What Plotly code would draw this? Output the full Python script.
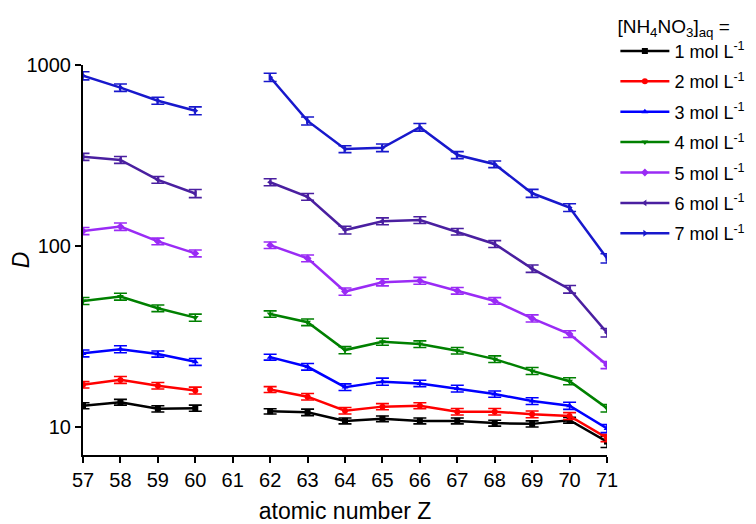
import plotly.graph_objects as go

Z = [57, 58, 59, 60, 61, 62, 63, 64, 65, 66, 67, 68, 69, 70, 71]

d1 = [13.1, 13.7, 12.6, 12.7, None, 12.2, 12.05, 10.8, 11.1, 10.8, 10.8, 10.5, 10.4, 10.9, 8.3]
d2 = [17.1, 18.2, 16.9, 15.9, None, 16.1, 14.7, 12.3, 12.95, 13.1, 12.15, 12.15, 11.75, 11.5, 8.7]
d3 = [25.5, 26.9, 25.3, 22.9, None, 24.3, 21.5, 16.6, 17.8, 17.4, 16.3, 15.2, 13.9, 13.1, 9.8]
d4 = [49.7, 52.5, 45.3, 40.2, None, 42.1, 37.9, 26.6, 29.6, 28.7, 26.4, 23.7, 20.4, 17.9, 12.7]
d5 = [121, 128, 106, 91, None, 101, 85.5, 56, 63, 64.3, 56.6, 49.7, 39.8, 32.6, 22]
d6 = [311, 299, 232, 195, None, 225, 187, 122.5, 137, 139, 120, 102.6, 75, 57.7, 33.2]
d7 = [873, 750, 635, 559, None, 855, 491, 343, 349, 453, 318, 283, 195.5, 163, 85.5]

e1 = [0.5, 0.5, 0.5, 0.5, None, 0.4, 0.5, 0.4, 0.4, 0.4, 0.4, 0.4, 0.4, 0.4, 0.6]
e2 = [0.7, 0.8, 0.7, 0.7, None, 0.6, 0.6, 0.5, 0.5, 0.5, 0.5, 0.5, 0.5, 0.5, 0.4]
e3 = [1.1, 1.2, 1.0, 1.0, None, 0.9, 0.9, 0.7, 0.8, 0.7, 0.7, 0.6, 0.6, 0.6, 0.5]
e4 = [2.2, 2.3, 1.9, 1.8, None, 1.7, 1.6, 1.2, 1.3, 1.2, 1.1, 1.0, 0.9, 0.8, 0.6]
e5 = [5.5, 6.0, 4.5, 4.0, None, 4.2, 3.7, 2.6, 2.8, 2.8, 2.4, 2.1, 1.8, 1.4, 1.0]
e6 = [14, 13, 10, 10, None, 10, 8, 6, 6, 6, 5, 4.5, 3.5, 2.8, 1.8]
e7 = [45, 35, 28, 28, None, 45, 25, 15, 17, 22, 14, 12, 10, 8, 5]

labels = ["1 mol L<sup>-1</sup>", "2 mol L<sup>-1</sup>", "3 mol L<sup>-1</sup>",
          "4 mol L<sup>-1</sup>", "5 mol L<sup>-1</sup>", "6 mol L<sup>-1</sup>",
          "7 mol L<sup>-1</sup>"]
colors = ["#000000", "#FF0000", "#0000FF", "#008000", "#9A2BF5", "#4A1FA0", "#1818CC"]
symbols = ["square", "circle", "triangle-up", "triangle-down", "diamond",
           "triangle-left", "triangle-right"]
series = [d1, d2, d3, d4, d5, d6, d7]
errors = [e1, e2, e3, e4, e5, e6, e7]

FONT = "Arial, Liberation Sans, sans-serif"

fig = go.Figure()
for i in range(7):
    fig.add_trace(go.Scatter(
        x=Z, y=series[i], name=labels[i], mode="lines+markers",
        connectgaps=False, legendgroup=str(i),
        line=dict(color=colors[i], width=2.5),
        marker=dict(symbol=symbols[i], size=6, color=colors[i]),
        error_y=dict(type="data", array=errors[i], visible=True,
                     color=colors[i], thickness=1.6, width=6.5),
    ))

fig.update_layout(
    width=748, height=516,
    margin=dict(l=75, r=149, t=57, b=69, autoexpand=False),
    paper_bgcolor="white", plot_bgcolor="white",
    font=dict(family=FONT, size=20, color="black"),
    showlegend=True,
    legend=dict(
        xref="container", yref="container",
        x=0.812, xanchor="left", y=1.037, yanchor="top",
        title=dict(text="[NH<sub>4</sub>NO<sub>3</sub>]<sub>aq</sub> =", font=dict(size=19)),
        font=dict(size=18), tracegroupgap=4, traceorder="grouped",
        itemwidth=49, bgcolor="rgba(0,0,0,0)",
    ),
    xaxis=dict(
        range=[57, 71], tickmode="array", tickvals=Z,
        ticktext=[str(z) for z in Z], automargin=False,
        showline=True, linecolor="black", linewidth=2,
        ticks="outside", ticklen=6, tickwidth=2, tickcolor="black",
        showgrid=False, zeroline=False,
        title=dict(text="atomic number Z", font=dict(size=23), standoff=13),
        tickfont=dict(size=20),
    ),
    yaxis=dict(
        type="log", range=[0.845, 3.0], automargin=False,
        tickmode="array", tickvals=[10, 100, 1000], ticktext=["10", "100", "1000"],
        showline=True, linecolor="black", linewidth=2,
        ticks="outside", ticklen=6, tickwidth=2, tickcolor="black",
        showgrid=False, zeroline=False,
        title=dict(text="<i>D</i>", font=dict(size=23), standoff=6),
        tickfont=dict(size=20),
    ),
)

fig.write_html("out.html")
